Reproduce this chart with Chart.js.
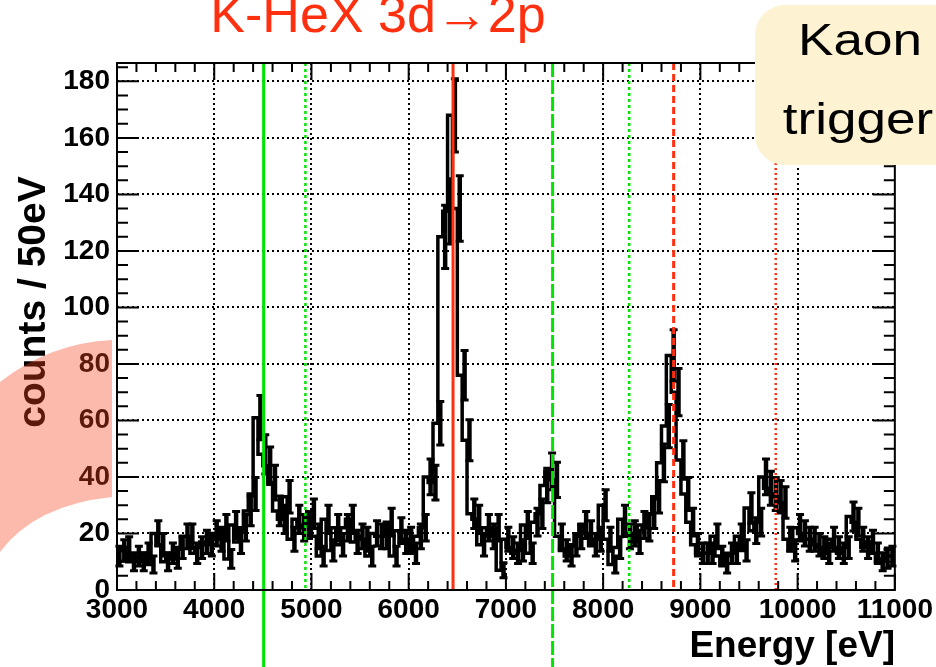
<!DOCTYPE html>
<html>
<head>
<meta charset="utf-8">
<script src="https://cdn.jsdelivr.net/npm/chart.js@4.4.1/dist/chart.umd.min.js"></script>
<style>
  html, body { margin: 0; padding: 0; background: #fff; }
  #wrap { width: 936px; height: 667px; overflow: hidden; }
</style>
</head>
<body>
<div id="wrap"><canvas id="spectrum" width="936" height="667"></canvas></div>
<script>
const binStart = 3000;
const binWidth = 50;

// counts per 50 eV bin, 3000 .. 11000 eV
const counts = [
  12, 14, 15, 10, 12, 10, 13, 9, 20, 16,
  10, 13, 11, 15, 19, 19, 13, 15, 17, 16,
  20, 18, 22, 11, 23, 17, 22, 28, 34, 61,
  48, 44, 38, 28, 25, 33, 18, 25, 22, 23,
  27, 19, 12, 25, 14, 22, 16, 22, 25, 17,
  19, 18, 12, 20, 19, 19, 24, 12, 21, 17,
  18, 13, 19, 22, 40, 38, 59, 125, 134, 168,
  135, 76, 53, 27, 25, 16, 22, 19, 22, 7,
  18, 15, 13, 14, 23, 13, 24, 27, 37, 42,
  39, 19, 14, 12, 16, 19, 23, 20, 16, 18,
  30, 18, 9, 15, 25, 19, 20, 17, 23, 22,
  27, 33, 45, 58, 83, 70, 46, 34, 24, 16,
  13, 13, 13, 19, 12, 9, 13, 13, 19, 14,
  29, 21, 24, 40, 36, 34, 33, 31, 18, 14,
  22, 20, 18, 18, 16, 15, 13, 18, 15, 13,
  15, 26, 24, 18, 15, 17, 13, 10, 11, 12
];

const xTickValues = [3000, 4000, 5000, 6000, 7000, 8000, 9000, 10000, 11000];
const yTickValues = [0, 20, 40, 60, 80, 100, 120, 140, 160, 180];
const xRange = [3000, 11000];
const yRange = [0, 186.5];
const xMinor = 200, yMinor = 5;

// transition energies marked on the plot (eV)
const greenSolidLines = [4508];
const greenDashedLines = [7480];
const greenDottedLines = [4938, 8268];
const redSolidLines = [6456];
const redDashedLines = [8725];
const redDottedLines = [9775];

const titleText = 'K-HeX 3d\u21922p';
const boxLines = ['Kaon', 'trigger'];

const FONT = "'Liberation Sans', Arial, Helvetica, sans-serif";

const points = counts.map((v, i) => ({ x: binStart + binWidth * i, y: v }));
points.push({ x: binStart + binWidth * counts.length, y: counts[counts.length - 1] });

function vline(ctx, px, top, bottom, color, width, dash) {
  ctx.save();
  ctx.strokeStyle = color;
  ctx.lineWidth = width;
  ctx.setLineDash(dash);
  ctx.beginPath();
  ctx.moveTo(px, top);
  ctx.lineTo(px, bottom);
  ctx.stroke();
  ctx.restore();
}

const decorations = {
  id: 'decorations',
  afterDatasetsDraw(chart) {
    const { ctx, chartArea: a, scales: { x, y } } = chart;

    // poisson error bars
    ctx.save();
    ctx.strokeStyle = '#000';
    counts.forEach((n, i) => {
      const e = Math.sqrt(n);
      const px = x.getPixelForValue(binStart + binWidth * (i + 0.5));
      const top = y.getPixelForValue(n + e);
      const bot = y.getPixelForValue(Math.max(n - e, 0));
      ctx.lineWidth = 4.5;
      ctx.beginPath();
      ctx.moveTo(px, top);
      ctx.lineTo(px, bot);
      ctx.stroke();
      ctx.lineWidth = 3;
      ctx.beginPath();
      ctx.moveTo(px - 4, top); ctx.lineTo(px + 4, top);
      ctx.moveTo(px - 4, bot); ctx.lineTo(px + 4, bot);
      ctx.stroke();
    });
    ctx.restore();

    const green = '#00e600', red = '#ff3010';
    greenSolidLines.forEach(E => vline(ctx, x.getPixelForValue(E), a.top, chart.height, green, 3, []));
    greenDashedLines.forEach(E => vline(ctx, x.getPixelForValue(E), a.top, chart.height, green, 3, [14, 3]));
    greenDottedLines.forEach(E => vline(ctx, x.getPixelForValue(E), a.top, a.bottom, green, 2.5, [3, 3]));
    redSolidLines.forEach(E => vline(ctx, x.getPixelForValue(E), a.top, a.bottom, red, 3, []));
    redDashedLines.forEach(E => vline(ctx, x.getPixelForValue(E), a.top, a.bottom, red, 3, [7, 4]));
    redDottedLines.forEach(E => vline(ctx, x.getPixelForValue(E), a.top, a.bottom, red, 2.5, [2, 3]));

    // frame and inward ticks
    ctx.save();
    ctx.strokeStyle = '#000';
    ctx.lineWidth = 2;
    ctx.strokeRect(a.left, a.top, a.right - a.left, a.bottom - a.top);
    ctx.beginPath();
    for (let E = xRange[0]; E <= xRange[1]; E += xMinor) {
      const px = x.getPixelForValue(E);
      const len = xTickValues.includes(E) ? 17 : 9;
      ctx.moveTo(px, a.bottom); ctx.lineTo(px, a.bottom - len);
      ctx.moveTo(px, a.top); ctx.lineTo(px, a.top + len);
    }
    for (let v = 0; v <= yRange[1]; v += yMinor) {
      const py = y.getPixelForValue(v);
      const len = yTickValues.includes(v) ? 22 : 11;
      ctx.moveTo(a.left, py); ctx.lineTo(a.left + len, py);
      ctx.moveTo(a.right, py); ctx.lineTo(a.right - len, py);
    }
    ctx.stroke();
    ctx.restore();
  },
  afterDraw(chart) {
    const { ctx } = chart;
    ctx.save();

    // axis titles
    ctx.fillStyle = '#000';
    ctx.font = `bold 37px ${FONT}`;
    ctx.textAlign = 'right';
    ctx.textBaseline = 'alphabetic';
    ctx.fillText('Energy [eV]', 895, 657);

    ctx.save();
    ctx.translate(45, 302);
    ctx.rotate(-Math.PI / 2);
    ctx.textAlign = 'center';
    ctx.font = `bold 39px ${FONT}`;
    ctx.fillText('counts / 50eV', 0, 0);
    ctx.restore();

    // title
    ctx.fillStyle = '#ff3010';
    ctx.font = `52px ${FONT}`;
    ctx.textAlign = 'center';
    ctx.fillText(titleText, 378, 32);

    // trigger label box
    ctx.fillStyle = '#fdf2d2';
    ctx.beginPath();
    ctx.roundRect(755, 5, 220, 160, 30);
    ctx.fill();
    ctx.fillStyle = '#000';
    ctx.font = `45px ${FONT}`;
    [[boxLines[0], 860, 55], [boxLines[1], 858, 134]].forEach(([t, cx, by]) => {
      ctx.save();
      ctx.translate(cx, by);
      ctx.scale(1.18, 1);
      ctx.fillText(t, 0, 0);
      ctx.restore();
    });

    // translucent highlight arc on the left
    ctx.fillStyle = 'rgba(243, 68, 27, 0.37)';
    ctx.beginPath();
    ctx.moveTo(0, 382);
    ctx.quadraticCurveTo(50, 343, 112, 340);
    ctx.lineTo(112, 497);
    ctx.quadraticCurveTo(35, 505, 0, 552);
    ctx.closePath();
    ctx.fill();

    ctx.restore();
  }
};

const tickFont = { family: FONT, size: 28, weight: 'bold' };

new Chart(document.getElementById('spectrum'), {
  type: 'line',
  data: {
    datasets: [{
      data: points,
      stepped: 'after',
      borderColor: '#000',
      borderWidth: 3.5,
      pointRadius: 0,
      fill: false
    }]
  },
  options: {
    responsive: false,
    animation: false,
    devicePixelRatio: 1,
    layout: { padding: { top: 63, right: 40, left: 0, bottom: 0 } },
    plugins: { legend: { display: false }, tooltip: { enabled: false } },
    scales: {
      x: {
        type: 'linear',
        min: xRange[0],
        max: xRange[1],
        afterBuildTicks: s => { s.ticks = xTickValues.map(v => ({ value: v })); },
        ticks: { color: '#000', font: tickFont, padding: 3, maxRotation: 0, autoSkip: false, callback: v => `${v}` },
        grid: {
          drawTicks: false,
          color: c => (c.tick && (c.tick.value === xRange[0] || c.tick.value === xRange[1])) ? 'rgba(0,0,0,0)' : '#000',
          lineWidth: 2
        },
        border: { display: false, dash: [2, 3] },
        afterFit: s => { s.height = 77; }
      },
      y: {
        min: yRange[0],
        max: yRange[1],
        afterBuildTicks: s => { s.ticks = yTickValues.map(v => ({ value: v })); },
        ticks: { color: '#000', font: tickFont, padding: 7, autoSkip: false, callback: v => `${v}` },
        grid: {
          drawTicks: false,
          color: c => (c.tick && c.tick.value === 0) ? 'rgba(0,0,0,0)' : '#000',
          lineWidth: 2
        },
        border: { display: false, dash: [2, 3] },
        afterFit: s => { s.width = 117; }
      }
    }
  },
  plugins: [decorations]
});
</script>
</body>
</html>
